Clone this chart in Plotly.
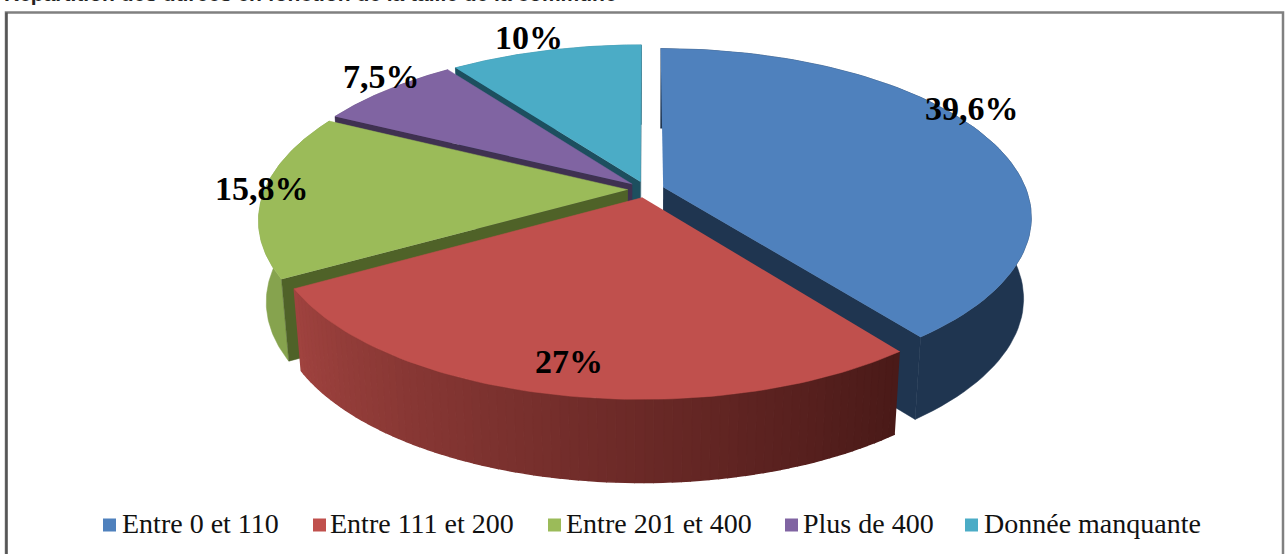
# repartition pie, drawn as a 3D-looking exploded pie from the percentages

import plotly.graph_objects as go
import numpy as np

categories=['Entre 0 et 110','Entre 111 et 200','Entre 201 et 400','Plus de 400','Donnée manquante']
values=[39.6,27,15.8,7.5,10]
top_colors=['#4F81BD','#C0504D','#9BBB59','#8064A2','#4BACC6']
cut_colors=['#1F3550','#4A1B19','#4F6228','#3F3151','#1D4F5F']
wall_colors=['#1F3550','#4A1B19','#86A34E','#5F4A7A','#2F7F95']
redwall_left=(160,67,63)
redwall_right=(74,26,24)

label_x=[972,569,262,381,529]
label_y=[108,361,188,76,37]
legend_x=[109.5,319.5,554.5,791.5,971.5]
legend_text_x=[122,330,566,803,984]
title='Répartition des durées en fonction de la taille de la commune'

# projection parameters, in page pixels
cx,cy=646,189.5
R=363
q=0.45
k=0.175
explode=0.05
depth=81
shrink_x=0.98
shrink_y=1.01

def project(X,Z,bottom=False):
    s=1/(1-k*Z)
    if bottom:
        return cx+R*s*X*shrink_x, cy+depth+R*q*s*Z*shrink_y
    return cx+R*s*X, cy+R*q*s*Z

def wedge_xz(a0,a1,n=80):
    t=np.radians(np.linspace(a0,a1,n))
    return np.sin(t),-np.cos(t)

def add_poly(fig,xs,ys,color,name=None,lw=0.5):
    fig.add_trace(go.Scatter(x=xs,y=ys,mode='lines',fill='toself',fillcolor=color,
        line=dict(color=color,width=lw),hoverinfo='skip',showlegend=False,name=name))

total=sum(values)
edges=np.concatenate([[0],np.cumsum(values)/total*360])
mid=(edges[:-1]+edges[1:])/2
ox=explode*np.sin(np.radians(mid))
oz=-explode*np.cos(np.radians(mid))

fig=go.Figure()

def draw_cut(i,angle):
    # flat face between the apex and the rim at a wedge edge
    rx=np.sin(np.radians(angle))+ox[i]
    rz=-np.cos(np.radians(angle))+oz[i]
    p=[project(ox[i],oz[i]),project(rx,rz),project(rx,rz,True),project(ox[i],oz[i],True)]
    add_poly(fig,[a[0] for a in p],[a[1] for a in p],cut_colors[i])

def draw_wall(i):
    X,Z=wedge_xz(edges[i],edges[i+1])
    X=X+ox[i]
    Z=Z+oz[i]
    if i==1:
        # the front wedge has a shaded rim, dark on the right, light on the left
        for j in range(len(X)-1):
            f=j/(len(X)-2)
            c=[int(redwall_right[m]+(redwall_left[m]-redwall_right[m])*f) for m in range(3)]
            a=project(X[j:j+2],Z[j:j+2])
            b=project(X[j:j+2],Z[j:j+2],True)
            add_poly(fig,list(a[0])+list(b[0][::-1]),list(a[1])+list(b[1][::-1]),'rgb(%d,%d,%d)'%tuple(c),lw=1.5)
    else:
        a=project(X,Z)
        b=project(X,Z,True)
        add_poly(fig,list(a[0])+list(b[0][::-1]),list(a[1])+list(b[1][::-1]),wall_colors[i])

def draw_top(i):
    X,Z=wedge_xz(edges[i],edges[i+1])
    px,py=project(np.append(X+ox[i],ox[i]),np.append(Z+oz[i],oz[i]))
    add_poly(fig,list(px),list(py),top_colors[i],categories[i])

# back to front
for i in [4,3,2,0,1]:
    draw_wall(i)
    if i==0:
        draw_cut(i,edges[i+1])
    elif i==4:
        draw_cut(i,edges[i])
        draw_cut(i,edges[i+1])
    elif i in (2,3):
        draw_cut(i,edges[i])
    draw_top(i)

# legend row
for i in range(len(categories)):
    fig.add_trace(go.Scatter(x=[legend_x[i]],y=[525],mode='markers',
        marker=dict(symbol='square',size=13,color=top_colors[i]),
        hoverinfo='skip',showlegend=False,name=categories[i]))
    fig.add_annotation(x=legend_text_x[i],y=523,xanchor='left',showarrow=False,borderpad=0,borderwidth=0,
        text=categories[i],font=dict(family='Liberation Serif',size=28,color='#111111'))

for i in range(len(values)):
    fig.add_annotation(x=label_x[i],y=label_y[i],showarrow=False,
        text='<b>'+f'{values[i]:g}'.replace('.',',')+'%</b>',
        font=dict(family='Liberation Serif',size=34,color='black'))

fig.add_annotation(x=3,y=6.5,xanchor='left',yanchor='bottom',showarrow=False,text='<b>'+title+'</b>',
    font=dict(family='Liberation Sans',size=21,color='#222222'),borderpad=0)

fig.update_layout(
    width=1288,height=554,
    margin=dict(l=0,r=0,t=0,b=0),
    paper_bgcolor='white',plot_bgcolor='white',
    xaxis=dict(range=[0,1288],visible=False,fixedrange=True),
    yaxis=dict(range=[554,0],visible=False,fixedrange=True),
    showlegend=False,
    shapes=[dict(type='rect',xref='x',yref='y',x0=6,y0=12.5,x1=1283,y1=570,
                 line=dict(color='#808080',width=2.5),layer='below'),
            dict(type='line',xref='x',yref='y',x0=6.5,y0=12.5,x1=6.5,y1=554,
                 line=dict(color='#555555',width=2.5),layer='below')],
)

fig.write_html("out.html",config=dict(displayModeBar=False),post_script="document.body.style.margin='0';")
